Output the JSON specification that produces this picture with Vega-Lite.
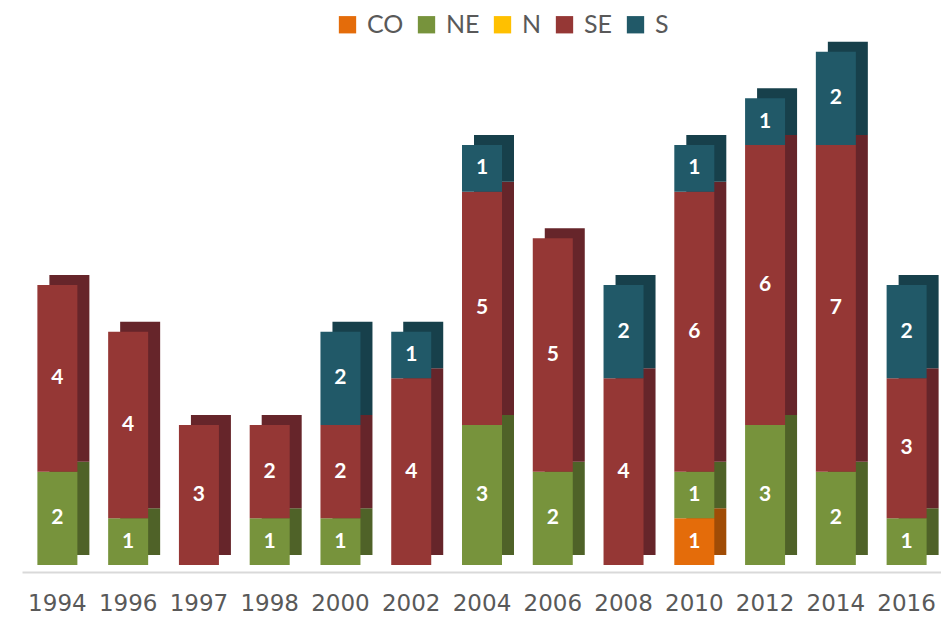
{
  "$schema": "https://vega.github.io/schema/vega-lite/v6.json",
  "width": 920,
  "height": 518,
  "autosize": {"type": "none"},
  "padding": {"left": 22, "top": 47, "right": 0, "bottom": 57},
  "background": "white",
  "config": {"view": {"stroke": null}},
  "data": {"values": [
    {"year": "1994", "region": "NE", "o": 2, "v": 2},
    {"year": "1994", "region": "SE", "o": 4, "v": 4},
    {"year": "1996", "region": "NE", "o": 2, "v": 1},
    {"year": "1996", "region": "SE", "o": 4, "v": 4},
    {"year": "1997", "region": "SE", "o": 4, "v": 3},
    {"year": "1998", "region": "NE", "o": 2, "v": 1},
    {"year": "1998", "region": "SE", "o": 4, "v": 2},
    {"year": "2000", "region": "NE", "o": 2, "v": 1},
    {"year": "2000", "region": "SE", "o": 4, "v": 2},
    {"year": "2000", "region": "S", "o": 5, "v": 2},
    {"year": "2002", "region": "SE", "o": 4, "v": 4},
    {"year": "2002", "region": "S", "o": 5, "v": 1},
    {"year": "2004", "region": "NE", "o": 2, "v": 3},
    {"year": "2004", "region": "SE", "o": 4, "v": 5},
    {"year": "2004", "region": "S", "o": 5, "v": 1},
    {"year": "2006", "region": "NE", "o": 2, "v": 2},
    {"year": "2006", "region": "SE", "o": 4, "v": 5},
    {"year": "2008", "region": "SE", "o": 4, "v": 4},
    {"year": "2008", "region": "S", "o": 5, "v": 2},
    {"year": "2010", "region": "CO", "o": 1, "v": 1},
    {"year": "2010", "region": "NE", "o": 2, "v": 1},
    {"year": "2010", "region": "SE", "o": 4, "v": 6},
    {"year": "2010", "region": "S", "o": 5, "v": 1},
    {"year": "2012", "region": "NE", "o": 2, "v": 3},
    {"year": "2012", "region": "SE", "o": 4, "v": 6},
    {"year": "2012", "region": "S", "o": 5, "v": 1},
    {"year": "2014", "region": "NE", "o": 2, "v": 2},
    {"year": "2014", "region": "SE", "o": 4, "v": 7},
    {"year": "2014", "region": "S", "o": 5, "v": 2},
    {"year": "2016", "region": "NE", "o": 2, "v": 1},
    {"year": "2016", "region": "SE", "o": 4, "v": 3},
    {"year": "2016", "region": "S", "o": 5, "v": 2}
  ]},
  "encoding": {
    "x": {
      "field": "year", "type": "nominal", "title": null,
      "scale": {"paddingInner": 0, "paddingOuter": 0},
      "axis": {
        "labelAngle": 0, "ticks": false, "domainColor": "#d9d9d9", "domainWidth": 2,
        "offset": 7, "labelFont": "DejaVu Sans", "labelFontSize": 23, "labelColor": "#595959",
        "labelPadding": 20
      }
    }
  },
  "layer": [
    {
      "mark": {"type": "bar", "size": 40, "xOffset": 12, "yOffset": -10},
      "encoding": {
        "y": {"field": "v", "type": "quantitative", "stack": "zero", "scale": {"domain": [0, 11.1], "nice": false}, "axis": null},
        "order": {"field": "o", "type": "quantitative"},
        "color": {
          "field": "region", "type": "nominal", "legend": null,
          "scale": {"domain": ["CO", "NE", "N", "SE", "S"], "range": ["#a04c06", "#4f6228", "#bf9000", "#66252a", "#17404b"]}
        }
      }
    },
    {
      "mark": {"type": "bar", "size": 40},
      "encoding": {
        "y": {"field": "v", "type": "quantitative", "stack": "zero", "scale": {"domain": [0, 11.1], "nice": false}, "axis": null},
        "order": {"field": "o", "type": "quantitative"},
        "color": {
          "field": "region", "type": "nominal",
          "scale": {"domain": ["CO", "NE", "N", "SE", "S"], "range": ["#e46c0a", "#77933c", "#ffc000", "#953735", "#215968"]},
          "legend": {
            "orient": "none", "legendX": 313, "legendY": -35, "title": null, "direction": "horizontal",
            "symbolType": "square", "symbolSize": 300, "symbolStrokeWidth": 0,
            "labelFont": "Lato", "labelFontSize": 25, "labelColor": "#595959",
            "columnPadding": 10, "labelOffset": 7
          }
        }
      }
    },
    {
      "transform": [
        {"stack": "v", "groupby": ["year"], "sort": [{"field": "o", "order": "ascending"}], "as": ["y0", "y1"]},
        {"calculate": "(datum.y0 + datum.y1) / 2", "as": "ym"}
      ],
      "mark": {"type": "text", "color": "white", "font": "Lato", "fontWeight": "bold", "fontSize": 21, "baseline": "middle"},
      "encoding": {
        "y": {"field": "ym", "type": "quantitative", "scale": {"domain": [0, 11.1], "nice": false}, "axis": null},
        "text": {"field": "v", "type": "quantitative"}
      }
    }
  ],
  "resolve": {"scale": {"color": "independent"}}
}
